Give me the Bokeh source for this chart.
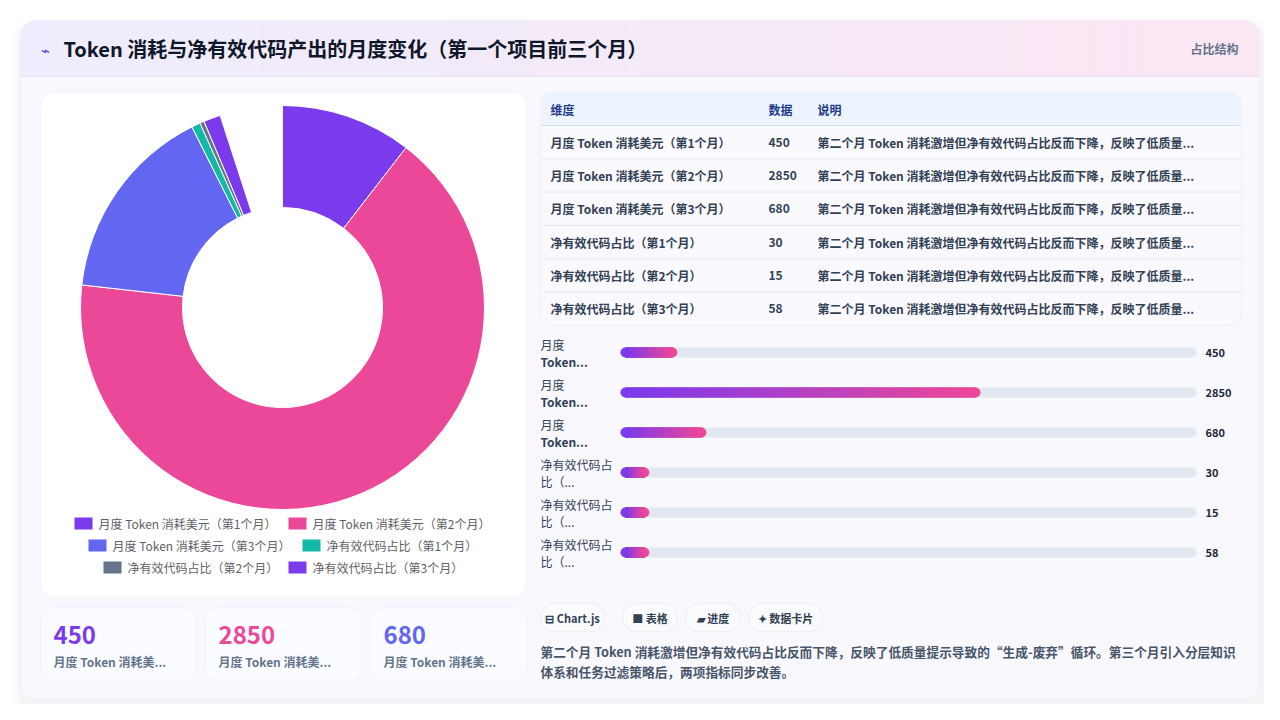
import numpy as np
from bokeh.plotting import figure
from bokeh.models import Range1d, BoxAnnotation
from bokeh.core.properties import value
from bokeh.embed import file_html
from bokeh.resources import INLINE

# data
title = "Token 消耗与净有效代码产出的月度变化（第一个项目前三个月）"
subtitle = "占比结构"
labels = ["月度 Token 消耗美元（第1个月）", "月度 Token 消耗美元（第2个月）",
          "月度 Token 消耗美元（第3个月）", "净有效代码占比（第1个月）",
          "净有效代码占比（第2个月）", "净有效代码占比（第3个月）"]
values = [450, 2850, 680, 30, 15, 58]
colors = ["#7c3aed", "#ec4899", "#6366f1", "#14b8a6", "#64748b", "#7c3aed"]
table_cols = ["维度", "数据", "说明"]
bar_line1 = ["月度", "月度", "月度", "净有效代码占", "净有效代码占", "净有效代码占"]
bar_line2 = ["Token...", "Token...", "Token...", "比（...", "比（...", "比（..."]
tags = ["⊟ Chart.js", "■ 表格", "▰ 进度", "✦ 数据卡片"]
note = ("第二个月 Token 消耗激增但净有效代码占比反而下降，反映了低质量提示导致的“生成-废弃”循环。"
        "第三个月引入分层知识体系和任务过滤策略后，两项指标同步改善。")

FONT = value("Noto Sans CJK SC")

p = figure(width=1264, height=704, x_range=Range1d(0, 1264), y_range=Range1d(704, 0),
           output_backend="svg", toolbar_location=None, min_border=0,
           x_axis_location=None, y_axis_location=None)
p.grid.visible = False
p.outline_line_color = None
p.background_fill_color = "white"
p.border_fill_color = "white"


def box(l, r, t, b, fill, line=None, radius=0, alpha=1.0, lw=1):
    p.add_layout(BoxAnnotation(left=l, right=r, top=t, bottom=b, fill_color=fill,
                               fill_alpha=alpha, line_color=line, line_width=lw,
                               border_radius=radius, level="underlay", editable=False))


def txt(x, y, t, size, color, bold=False, align="left"):
    p.text(x=[x], y=[y], text=[t], text_font=FONT, text_font_size=f"{size}px",
           text_color=color, text_font_style="bold" if bold else "normal",
           text_align=align, text_baseline="middle")


def blend(a, b, n):
    a = np.array(a)
    b = np.array(b)
    return ["#%02x%02x%02x" % tuple((a + (b - a) * t).astype(int)) for t in np.linspace(0, 1, n)]


# shadow + outer card
for k, a in [(14, 0.015), (9, 0.025), (5, 0.035)]:
    box(20 - k + 3, 1259 + k + 3, 20 - k + 8, 699 + k + 8, "#64648c", None, 16 + k, a)
box(20, 1259, 20, 699, "#f9f8ff", "#e2ddf8", 16)

# header gradient
box(20, 44, 20, 76, "#efedfd", None, (16, 0, 0, 0))
box(1235, 1259, 20, 76, "#fbe7f3", None, (0, 16, 0, 0))
n = 80
xs = np.linspace(36, 1243, n + 1)
hc = blend([239, 237, 253], [251, 231, 243], n)
p.quad(left=xs[:-1], right=xs[1:] + 1, top=20.5, bottom=76, fill_color=hc,
       line_color=hc, line_width=0.5)
p.segment(x0=20.5, y0=76, x1=1258.5, y1=76, line_color="#e6e1f7", line_width=1)
txt(40, 49, "⌁", 15, "#4f46e5")
txt(63, 48, title, 20, "#0f172a", bold=True)
txt(1238, 48, subtitle, 12, "#64748b", bold=True, align="right")

# left panel with doughnut
box(40, 526, 92, 597, "#ffffff", "#e3e6f3", 14)
total = sum(values)
circ = np.deg2rad(342)
frac = np.array(values) / total * circ
ends = np.cumsum(frac)
starts = ends - frac
p.annular_wedge(x=282, y=307, inner_radius=100, outer_radius=202,
                inner_radius_units="screen", outer_radius_units="screen",
                start_angle=np.pi / 2 - ends, end_angle=np.pi / 2 - starts,
                fill_color=colors, line_color="white", line_width=1)

# legend
leg_x = [74, 288, 88, 302, 103, 288]
leg_y = [523, 523, 545, 545, 567, 567]
for i in range(len(labels)):
    p.quad(left=leg_x[i], right=leg_x[i] + 18, top=leg_y[i] - 6, bottom=leg_y[i] + 6,
           fill_color=colors[i], line_color=None)
    txt(leg_x[i] + 24, leg_y[i], labels[i], 12, "#5f5f66")

# stat cards
card_l = [40, 205, 370]
for i in range(3):
    box(card_l[i], card_l[i] + 156, 607, 681, "#fbfcff", "#dbe3f3", 14)
    txt(card_l[i] + 13, 634, str(values[i]), 24, colors[i], bold=True)
    txt(card_l[i] + 13, 661, labels[i][:12] + "...", 12, "#64748b", bold=True)

# table
box(540, 1241, 92, 325, "#f9f9fe", "#d3d9e8", 12)
box(540, 1241, 92, 125, "#eef4ff", None, (12, 12, 0, 0))
col_x = [550, 768, 817]
for j, c in enumerate(table_cols):
    txt(col_x[j], 109, c, 12, "#1e3a8a", bold=True)
short_note = note[:note.index("提示")] + "..."
row_h = 33.3
for i in range(len(labels)):
    top = 125 + row_h * i
    p.segment(x0=541, y0=top, x1=1240, y1=top,
              line_color="#d6ddea" if i == 0 else "#e6eaf2", line_width=1)
    yc = top + row_h / 2
    txt(col_x[0], yc, labels[i], 12, "#334155", bold=True)
    txt(col_x[1], yc, str(values[i]), 12, "#334155", bold=True)
    txt(col_x[2], yc, short_note, 12, "#334155", bold=True)

# progress bars
tx0, tx1 = 620, 1196
scale_max = max(values) * 1.6
for i, v in enumerate(values):
    yc = 352 + 40 * i
    txt(540, yc - 8, bar_line1[i], 12, "#334155")
    txt(540, yc + 9, bar_line2[i], 12, "#334155", bold=bar_line2[i].startswith("Token"))
    p.segment(x0=tx0 + 5, y0=yc, x1=tx1 - 5, y1=yc, line_width=10, line_cap="round",
              line_color="#e2e8f0")
    w = max(v / scale_max, 0.05) * (tx1 - tx0)
    m = 40
    sx = np.linspace(tx0 + 5, tx0 + w - 5, m + 1)
    gc = blend([124, 58, 237], [236, 72, 153], m)
    p.scatter(x=[tx0 + 5], y=[yc], size=10, marker="circle", fill_color="#7c3aed", line_color=None)
    p.scatter(x=[tx0 + w - 5], y=[yc], size=10, marker="circle", fill_color="#ec4899", line_color=None)
    p.quad(left=sx[:-1], right=sx[1:] + 0.5, top=yc - 5, bottom=yc + 5, fill_color=gc,
           line_color=gc, line_width=0.6)
    txt(1205, yc, str(v), 11, "#1e293b", bold=True)

# tags
tag_l = [540, 622, 685, 748]
tag_r = [604, 677, 740, 822]
for i, t in enumerate(tags):
    box(tag_l[i], tag_r[i], 603, 631, "#fafbfd", "#d5dbe6", 14, lw=1.2)
    txt((tag_l[i] + tag_r[i]) / 2, 617, t, 11, "#334155", bold=True, align="center")

# description
cut = note.index("体系")
txt(540, 651, note[:cut], 12.7, "#475569", bold=True)
txt(540, 671, note[cut:], 12.7, "#475569", bold=True)

open("out.html", "w").write(file_html(p, INLINE))
